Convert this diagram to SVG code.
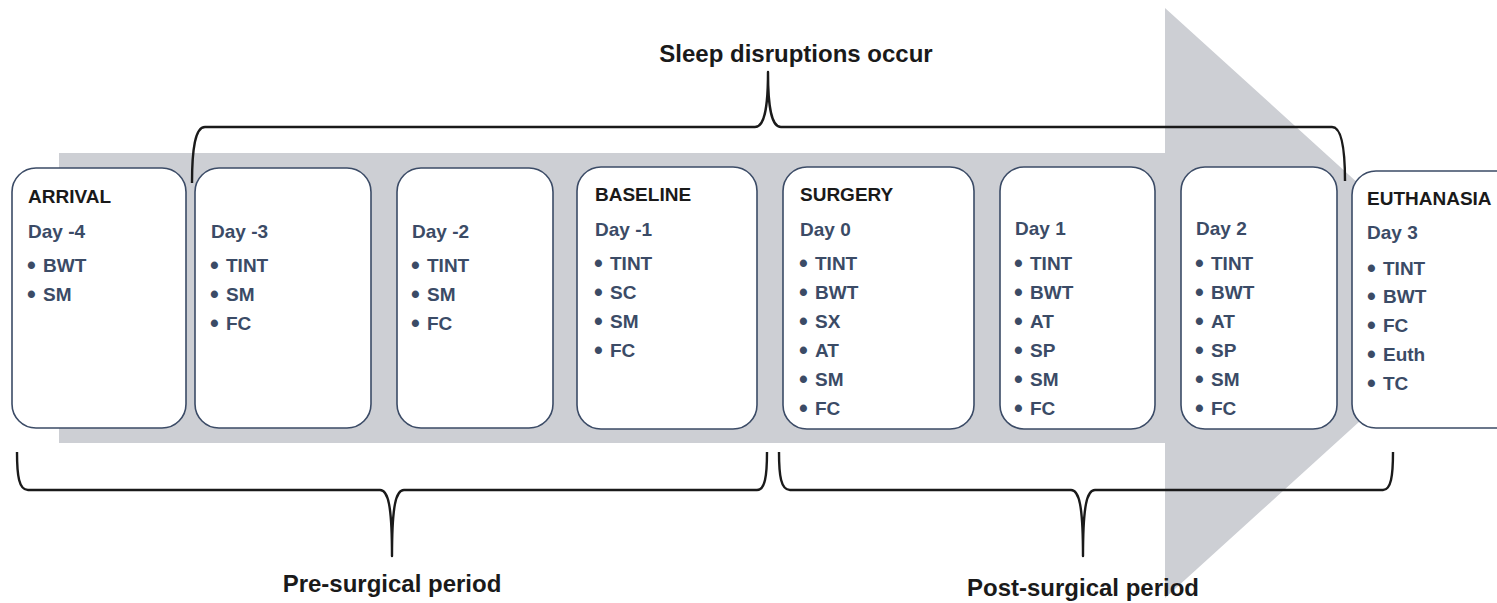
<svg xmlns="http://www.w3.org/2000/svg" width="1497" height="603" viewBox="0 0 1497 603">
<style>
.box{fill:#fff;stroke:#3b4b66;stroke-width:1.6}
.hd{font-family:"Liberation Sans",Arial,sans-serif;font-weight:bold;font-size:19px;fill:#1a1a1a}
.dy{font-family:"Liberation Sans",Arial,sans-serif;font-weight:bold;font-size:19px;fill:#3b4b66}
.it{font-family:"Liberation Sans",Arial,sans-serif;font-weight:bold;font-size:19px;fill:#3b4b66}
.bl{font-size:25px}
.ttl{font-family:"Liberation Sans",Arial,sans-serif;font-weight:bold;font-size:24px;fill:#1a1a1a;text-anchor:middle}
.br{fill:none;stroke:#1a1a1a;stroke-width:2.4;stroke-linejoin:round}
</style>
<g id="timeline-arrow">
<polygon points="59,153 1165,153 1165,8 1490,303 1165,598 1165,443 59,443" fill="#cdcfd4"/>
</g>
<g id="connectors">
<path class="br" d="M192,183 C192,150 195,127 205,127 L755,127 C764,127 768,110 768,72 C768,110 772,127 781,127 L1332,127 C1342,127 1345,150 1345,181"/>
<path class="br" d="M17,452 C17,476 19,490 28,490 L380,490 C388,490 392,505 392,556 C392,505 396,490 404,490 L757,490 C765,490 767,476 767,452"/>
<path class="br" d="M779,452 C779,476 781,490 790,490 L1071,490 C1079,490 1083,505 1083,556 C1083,505 1087,490 1095,490 L1383,490 C1391,490 1393,476 1393,452"/>
</g>
<g id="labels">
<text class="ttl" x="796" y="62">Sleep disruptions occur</text>
<text class="ttl" x="392" y="592">Pre-surgical period</text>
<text class="ttl" x="1083" y="596">Post-surgical period</text>
</g>
<g id="node-arrival">
<rect class="box" x="12" y="168" width="174" height="260" rx="24"/>
<text class="hd" x="28" y="203">ARRIVAL</text>
<text class="dy" x="28" y="238">Day -4</text>
<text class="it" y="272"><tspan class="bl" x="27" dy="2">•</tspan><tspan x="43" dy="-2">BWT</tspan></text>
<text class="it" y="301"><tspan class="bl" x="27" dy="2">•</tspan><tspan x="43" dy="-2">SM</tspan></text>
</g>
<g id="node-day-3">
<rect class="box" x="195" y="168" width="176" height="260" rx="24"/>
<text class="dy" x="211" y="238">Day -3</text>
<text class="it" y="272"><tspan class="bl" x="210" dy="2">•</tspan><tspan x="226" dy="-2">TINT</tspan></text>
<text class="it" y="301"><tspan class="bl" x="210" dy="2">•</tspan><tspan x="226" dy="-2">SM</tspan></text>
<text class="it" y="330"><tspan class="bl" x="210" dy="2">•</tspan><tspan x="226" dy="-2">FC</tspan></text>
</g>
<g id="node-day-2">
<rect class="box" x="397" y="168" width="156" height="260" rx="24"/>
<text class="dy" x="412" y="238">Day -2</text>
<text class="it" y="272"><tspan class="bl" x="411" dy="2">•</tspan><tspan x="427" dy="-2">TINT</tspan></text>
<text class="it" y="301"><tspan class="bl" x="411" dy="2">•</tspan><tspan x="427" dy="-2">SM</tspan></text>
<text class="it" y="330"><tspan class="bl" x="411" dy="2">•</tspan><tspan x="427" dy="-2">FC</tspan></text>
</g>
<g id="node-baseline">
<rect class="box" x="577" y="167" width="180" height="262" rx="24"/>
<text class="hd" x="595" y="201">BASELINE</text>
<text class="dy" x="595" y="236">Day -1</text>
<text class="it" y="270"><tspan class="bl" x="594" dy="2">•</tspan><tspan x="610" dy="-2">TINT</tspan></text>
<text class="it" y="299"><tspan class="bl" x="594" dy="2">•</tspan><tspan x="610" dy="-2">SC</tspan></text>
<text class="it" y="328"><tspan class="bl" x="594" dy="2">•</tspan><tspan x="610" dy="-2">SM</tspan></text>
<text class="it" y="357"><tspan class="bl" x="594" dy="2">•</tspan><tspan x="610" dy="-2">FC</tspan></text>
</g>
<g id="node-surgery">
<rect class="box" x="783" y="167" width="191" height="262" rx="24"/>
<text class="hd" x="800" y="201">SURGERY</text>
<text class="dy" x="800" y="236">Day 0</text>
<text class="it" y="270"><tspan class="bl" x="799" dy="2">•</tspan><tspan x="815" dy="-2">TINT</tspan></text>
<text class="it" y="299"><tspan class="bl" x="799" dy="2">•</tspan><tspan x="815" dy="-2">BWT</tspan></text>
<text class="it" y="328"><tspan class="bl" x="799" dy="2">•</tspan><tspan x="815" dy="-2">SX</tspan></text>
<text class="it" y="357"><tspan class="bl" x="799" dy="2">•</tspan><tspan x="815" dy="-2">AT</tspan></text>
<text class="it" y="386"><tspan class="bl" x="799" dy="2">•</tspan><tspan x="815" dy="-2">SM</tspan></text>
<text class="it" y="415"><tspan class="bl" x="799" dy="2">•</tspan><tspan x="815" dy="-2">FC</tspan></text>
</g>
<g id="node-day1">
<rect class="box" x="1000" y="167" width="155" height="262" rx="24"/>
<text class="dy" x="1015" y="235">Day 1</text>
<text class="it" y="270"><tspan class="bl" x="1014" dy="2">•</tspan><tspan x="1030" dy="-2">TINT</tspan></text>
<text class="it" y="299"><tspan class="bl" x="1014" dy="2">•</tspan><tspan x="1030" dy="-2">BWT</tspan></text>
<text class="it" y="328"><tspan class="bl" x="1014" dy="2">•</tspan><tspan x="1030" dy="-2">AT</tspan></text>
<text class="it" y="357"><tspan class="bl" x="1014" dy="2">•</tspan><tspan x="1030" dy="-2">SP</tspan></text>
<text class="it" y="386"><tspan class="bl" x="1014" dy="2">•</tspan><tspan x="1030" dy="-2">SM</tspan></text>
<text class="it" y="415"><tspan class="bl" x="1014" dy="2">•</tspan><tspan x="1030" dy="-2">FC</tspan></text>
</g>
<g id="node-day2">
<rect class="box" x="1181" y="167" width="156" height="262" rx="24"/>
<text class="dy" x="1196" y="235">Day 2</text>
<text class="it" y="270"><tspan class="bl" x="1195" dy="2">•</tspan><tspan x="1211" dy="-2">TINT</tspan></text>
<text class="it" y="299"><tspan class="bl" x="1195" dy="2">•</tspan><tspan x="1211" dy="-2">BWT</tspan></text>
<text class="it" y="328"><tspan class="bl" x="1195" dy="2">•</tspan><tspan x="1211" dy="-2">AT</tspan></text>
<text class="it" y="357"><tspan class="bl" x="1195" dy="2">•</tspan><tspan x="1211" dy="-2">SP</tspan></text>
<text class="it" y="386"><tspan class="bl" x="1195" dy="2">•</tspan><tspan x="1211" dy="-2">SM</tspan></text>
<text class="it" y="415"><tspan class="bl" x="1195" dy="2">•</tspan><tspan x="1211" dy="-2">FC</tspan></text>
</g>
<g id="node-euthanasia">
<rect class="box" x="1352" y="171" width="170" height="257" rx="24"/>
<text class="hd" x="1367" y="205">EUTHANASIA</text>
<text class="dy" x="1367" y="239">Day 3</text>
<text class="it" y="275"><tspan class="bl" x="1367" dy="2">•</tspan><tspan x="1383" dy="-2">TINT</tspan></text>
<text class="it" y="303"><tspan class="bl" x="1367" dy="2">•</tspan><tspan x="1383" dy="-2">BWT</tspan></text>
<text class="it" y="332"><tspan class="bl" x="1367" dy="2">•</tspan><tspan x="1383" dy="-2">FC</tspan></text>
<text class="it" y="361"><tspan class="bl" x="1367" dy="2">•</tspan><tspan x="1383" dy="-2">Euth</tspan></text>
<text class="it" y="390"><tspan class="bl" x="1367" dy="2">•</tspan><tspan x="1383" dy="-2">TC</tspan></text>
</g>
</svg>
